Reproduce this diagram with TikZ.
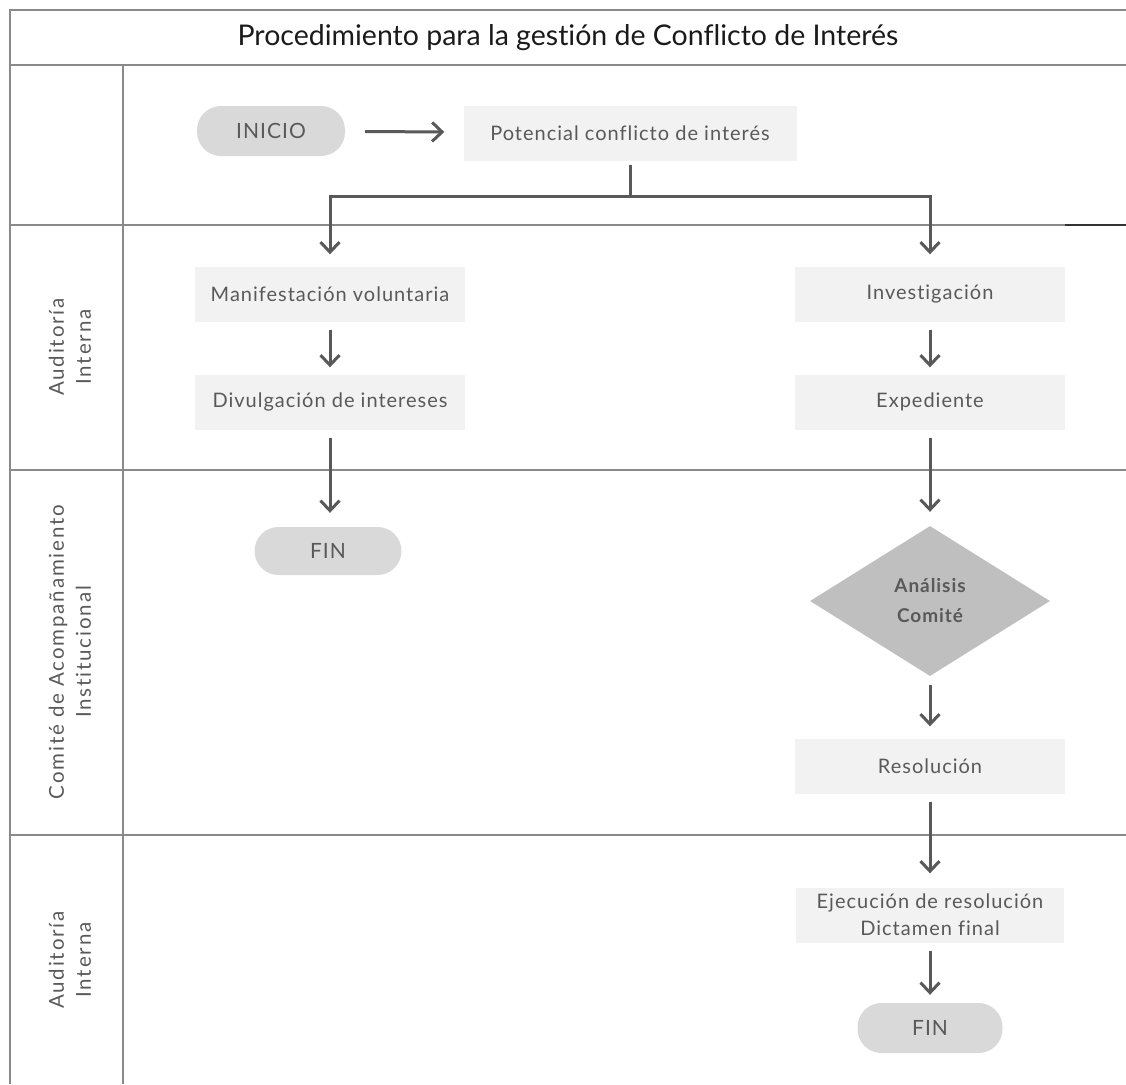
\documentclass[tikz,border=0pt]{standalone}
\usepackage{fontspec}
\setmainfont[Ligatures=NoCommon]{Lato}
\newfontfamily\spaced[LetterSpace=5,Ligatures=NoCommon]{Lato}
\newfontfamily\lanefont[LetterSpace=9,Ligatures=NoCommon]{Lato}
\usetikzlibrary{arrows.meta,shapes.geometric}
\definecolor{laneline}{HTML}{8A8A8A}
\definecolor{arrowc}{HTML}{595959}
\definecolor{boxfill}{HTML}{F2F2F2}
\definecolor{pillfill}{HTML}{D9D9D9}
\definecolor{diafill}{HTML}{BFBFBF}
\definecolor{txt}{HTML}{595959}
\definecolor{titletxt}{HTML}{1A1A1A}
\tikzset{
  lane/.style={draw=laneline, line width=1.5pt},
  procbox/.style={fill=boxfill, minimum width=270pt, minimum height=55pt, inner sep=2pt,
    text=txt, font=\spaced\fontsize{20}{27}\selectfont, align=center},
  pill/.style={fill=pillfill, rounded corners=24pt, minimum width=148pt, minimum height=50pt,
    text=txt, font=\spaced\fontsize{21}{25}\selectfont},
  decision/.style={diamond, fill=diafill, inner sep=0pt, minimum width=240pt, minimum height=150pt,
    aspect=1.6, text=txt, font=\spaced\bfseries\fontsize{19}{30}\selectfont, align=center},
  flow/.style={draw=arrowc, line width=3pt, -{Straight Barb[length=10pt,width=19pt,line width=3pt]}},
  flowline/.style={draw=arrowc, line width=3pt},
  lanelabel/.style={rotate=90, text=txt, font=\lanefont\fontsize{20.5}{27}\selectfont, align=center}
}
\begin{document}
\begin{tikzpicture}[x=1pt,y=-1pt]
\useasboundingbox (0,0) rectangle (1126,1084);
% frame and lanes
\draw[lane] (10,1084) -- (10,10) -- (1126,10);
\draw[lane] (10,65) -- (1126,65);
\draw[lane] (10,225) -- (1126,225);
\draw[lane] (10,470) -- (1126,470);
\draw[lane] (10,835) -- (1126,835);
\draw[lane] (123,65) -- (123,1084);
\draw[draw=black!80, line width=2pt] (1065,225) -- (1126,225);
% title
\node[text=titletxt, font=\fontsize{28.5}{32}\selectfont] (title) at (568,38) {Procedimiento para la gestión de Conflicto de Interés};
% lane labels
\node[lanelabel] (l1) at (70,347) {Auditoría\\Interna};
\node[lanelabel] (l2) at (70,652) {Comité de Acompañamiento\\Institucional};
\node[lanelabel] (l3) at (70,960) {Auditoría\\Interna};
% nodes
\node[pill] (inicio) at (271,131) {INICIO};
\node[procbox, minimum width=333pt] (pot) at (630,133) {Potencial conflicto de interés};
\node[procbox] (manif) at (330,294) {Manifestación voluntaria};
\node[procbox] (divul) at (330,402) {Divulgación de intereses};
\node[pill, minimum width=147pt, minimum height=48pt] (fin1) at (328,551) {FIN};
\node[procbox] (inv) at (930,294) {Investigación};
\node[procbox] (exp) at (930,402) {Expediente};
\node[decision] (ana) at (930,601) {Análisis\\Comité};
\node[procbox] (res) at (930,766) {Resolución};
\node[procbox, minimum width=268pt] (eje) at (930,915) {Ejecución de resolución\\Dictamen final};
\node[pill, minimum width=145pt] (fin2) at (930,1028) {FIN};
\coordinate (split) at (630,196);
% connectors
\draw[flow, shorten <=20pt, shorten >=19pt] (inicio) -- (pot);
\draw[flowline, shorten <=4pt] (pot.south) -- (split);
\draw[flow, shorten >=12pt] (split) -| (manif.north);
\draw[flow, shorten >=12pt] (split) -| (inv.north);
\draw[flow, shorten <=8pt, shorten >=7pt] (manif) -- (divul);
\draw[flow, shorten <=8pt, shorten >=14pt] (divul.south) -- (divul.south |- fin1.north);
\draw[flow, shorten <=8pt, shorten >=7pt] (inv) -- (exp);
\draw[flow, shorten <=8pt, shorten >=14pt] (exp) -- (ana);
\draw[flow, shorten <=9pt, shorten >=12pt] (ana) -- (res);
\draw[flow, shorten <=8pt, shorten >=14pt] (res) -- (eje);
\draw[flow, shorten <=8pt, shorten >=8pt] (eje) -- (fin2);
\end{tikzpicture}
\end{document}
